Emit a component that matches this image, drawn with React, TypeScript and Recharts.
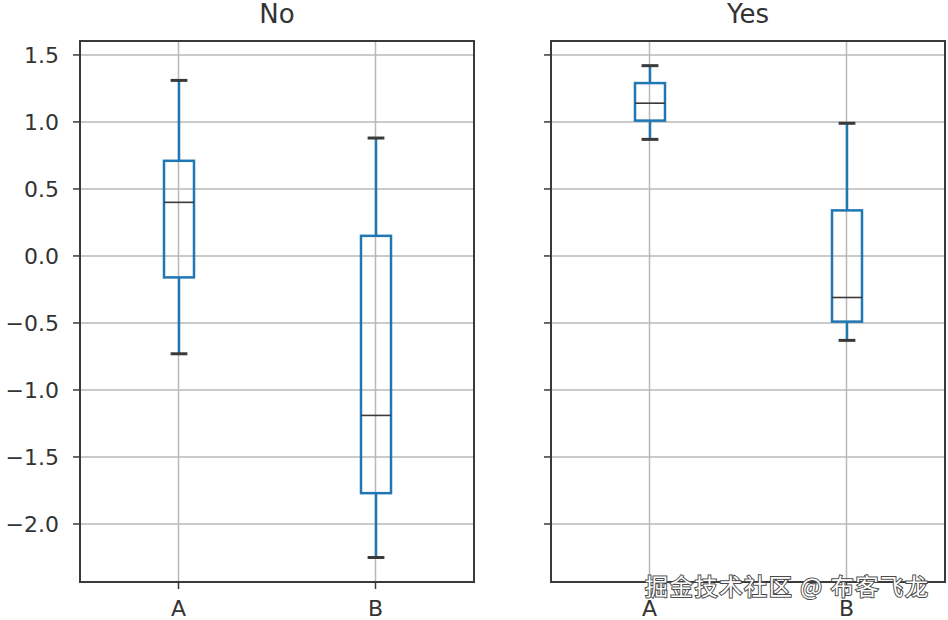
import React from "react";
import {
  ComposedChart,
  Bar,
  XAxis,
  YAxis,
  CartesianGrid,
  ReferenceArea,
} from "recharts";

const categories = ["A", "B"];

// "No" group
const noMin = [-0.73, -2.25];
const noQ1 = [-0.16, -1.77];
const noMedian = [0.4, -1.19];
const noQ3 = [0.71, 0.15];
const noMax = [1.31, 0.88];

// "Yes" group
const yesMin = [0.87, -0.63];
const yesQ1 = [1.01, -0.49];
const yesMedian = [1.14, -0.31];
const yesQ3 = [1.29, 0.34];
const yesMax = [1.42, 0.99];

const yTicks = [-2.0, -1.5, -1.0, -0.5, 0.0, 0.5, 1.0, 1.5];
const yDomain: [number, number] = [-2.433, 1.604];

const BLUE = "#1f77b4";
const DARK = "#3a3a3a";
const TEXT = "#333333";
const FONT = "DejaVu Sans";

const buildRows = (
  mins: number[],
  q1s: number[],
  meds: number[],
  q3s: number[],
  maxs: number[]
) =>
  categories.map((name, i) => ({
    name,
    range: [mins[i], maxs[i]],
    min: mins[i],
    q1: q1s[i],
    med: meds[i],
    q3: q3s[i],
    max: maxs[i],
  }));

const noRows = buildRows(noMin, noQ1, noMedian, noQ3, noMax);
const yesRows = buildRows(yesMin, yesQ1, yesMedian, yesQ3, yesMax);

const fmt = (v: number) => v.toFixed(1).replace("-", "\u2212");

// box drawn inside the range bar [min, max]; inner values mapped linearly
const BoxShape = (props: any) => {
  const { x, y, width, height, payload } = props;
  if (!payload) return null;
  const top = Math.min(y, y + height);
  const bottom = Math.max(y, y + height);
  const { min, q1, med, q3, max } = payload;
  const py = (v: number) => top + ((max - v) / (max - min)) * (bottom - top);
  const cx = x + width / 2;
  const capHalf = width * 0.28;
  return (
    <g>
      <line x1={cx} x2={cx} y1={py(max)} y2={py(q3)} stroke={BLUE} strokeWidth={2.5} />
      <line x1={cx} x2={cx} y1={py(q1)} y2={py(min)} stroke={BLUE} strokeWidth={2.5} />
      <rect
        x={x}
        y={py(q3)}
        width={width}
        height={py(q1) - py(q3)}
        fill="none"
        stroke={BLUE}
        strokeWidth={2.5}
      />
      <line x1={x} x2={x + width} y1={py(med)} y2={py(med)} stroke={DARK} strokeWidth={1.6} />
      <line x1={cx - capHalf} x2={cx + capHalf} y1={py(max)} y2={py(max)} stroke={DARK} strokeWidth={3} />
      <line x1={cx - capHalf} x2={cx + capHalf} y1={py(min)} y2={py(min)} stroke={DARK} strokeWidth={3} />
    </g>
  );
};

type PanelProps = {
  rows: any[];
  width: number;
  marginLeft: number;
  marginRight: number;
  yAxisWidth: number;
  showYLabels: boolean;
};

const Panel = ({ rows, width, marginLeft, marginRight, yAxisWidth, showYLabels }: PanelProps) => (
  <ComposedChart
    width={width}
    height={620}
    data={rows}
    margin={{ top: 41, right: marginRight, left: marginLeft, bottom: 8 }}
  >
    <CartesianGrid stroke="#b8b8b8" strokeWidth={1.5} />
    <XAxis
      dataKey="name"
      height={30}
      axisLine={false}
      tickSize={7}
      tickMargin={11}
      tickLine={{ stroke: DARK, strokeWidth: 1.5 }}
      tick={{ fill: TEXT, fontSize: 22, fontFamily: FONT }}
    />
    <YAxis
      type="number"
      domain={yDomain}
      ticks={yTicks}
      width={yAxisWidth}
      axisLine={false}
      tickSize={7}
      tickMargin={14}
      tickLine={{ stroke: DARK, strokeWidth: 1.5 }}
      tickFormatter={showYLabels ? fmt : () => ""}
      tick={{ fill: TEXT, fontSize: 22, fontFamily: FONT }}
    />
    <Bar dataKey="range" barSize={30} shape={BoxShape} isAnimationActive={false} />
    <ReferenceArea
      y1={yDomain[0]}
      y2={yDomain[1]}
      fill="none"
      fillOpacity={0}
      stroke={DARK}
      strokeWidth={2}
    />
  </ComposedChart>
);

const titleStyle = (left: number, w: number): React.CSSProperties => ({
  position: "absolute",
  left,
  top: 0,
  width: w,
  lineHeight: "28px",
  textAlign: "center",
  fontFamily: FONT,
  fontSize: 26,
  color: TEXT,
});

export default function App() {
  return (
    <div style={{ position: "absolute", left: 0, top: 0, width: 948, height: 620, background: "#fff" }}>
      <div style={{ position: "absolute", left: 0, top: 0 }}>
        <Panel rows={noRows} width={480} marginLeft={10} marginRight={6} yAxisWidth={70} showYLabels />
      </div>
      <div style={{ position: "absolute", left: 480, top: 0 }}>
        <Panel rows={yesRows} width={468} marginLeft={60} marginRight={3} yAxisWidth={11} showYLabels={false} />
      </div>
      <div style={titleStyle(80, 394)}>No</div>
      <div style={titleStyle(551, 394)}>Yes</div>
      <svg
        width={948}
        height={620}
        style={{ position: "absolute", left: 0, top: 0, pointerEvents: "none" }}
      >
        <text
          x={645}
          y={595}
          fontSize={23}
          fontFamily="Noto Sans CJK SC"
          fill="#ffffff"
          stroke="#4a4a4a"
          strokeWidth={2}
          paintOrder="stroke"
          textLength={283}
          lengthAdjust="spacing"
        >
          掘金技术社区 @ 布客飞龙
        </text>
      </svg>
    </div>
  );
}
